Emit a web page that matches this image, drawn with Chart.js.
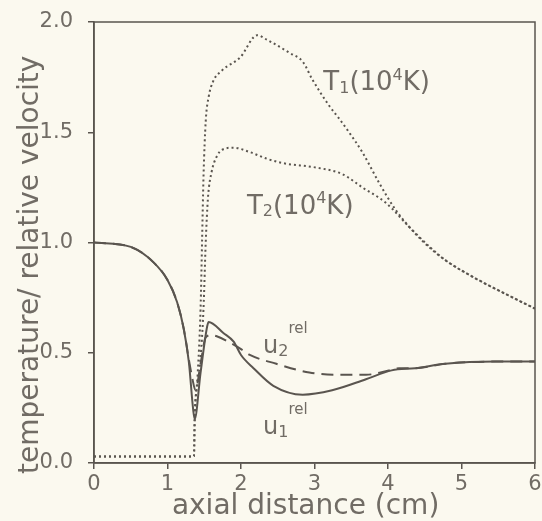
<!DOCTYPE html>
<html>
<head>
<meta charset="utf-8">
<script src="https://cdn.jsdelivr.net/npm/chart.js@4/dist/chart.umd.min.js"></script>
<style>
  html, body { margin: 0; padding: 0; background: #fbf9ef; }
  #wrap { width: 542px; height: 521px; }
</style>
</head>
<body>
<div id="wrap"><canvas id="axialChart" width="542" height="521"></canvas></div>
<script>
// values, x in cm
const t1X = [0, 1.36, 1.37, 1.41, 1.45, 1.47, 1.49, 1.52, 1.56, 1.62, 1.74, 1.99, 2.22, 2.35, 2.66, 2.84, 2.97, 3.2, 3.34, 3.47, 3.65, 3.88, 4.1, 4.46, 4.78, 5.23, 5.64, 6.0];
const t1Y = [0.03, 0.03, 0.2, 0.4, 0.7, 1.0, 1.3, 1.55, 1.66, 1.73, 1.78, 1.84, 1.94, 1.92, 1.86, 1.82, 1.74, 1.62, 1.56, 1.50, 1.41, 1.27, 1.15, 1.01, 0.92, 0.83, 0.76, 0.70];

const t2X = [0, 1.36, 1.37, 1.43, 1.49, 1.52, 1.55, 1.6, 1.67, 1.74, 1.9, 2.12, 2.35, 2.57, 3.02, 3.38, 3.65, 3.97, 4.32, 4.6, 4.78, 5.23, 5.64, 6.0];
const t2Y = [0.03, 0.03, 0.2, 0.4, 0.7, 1.0, 1.2, 1.32, 1.39, 1.42, 1.43, 1.41, 1.38, 1.36, 1.34, 1.31, 1.25, 1.18, 1.06, 0.97, 0.92, 0.83, 0.76, 0.70];

const u1X = [0, 0.5, 0.81, 1.0, 1.13, 1.22, 1.29, 1.35, 1.37, 1.45, 1.54, 1.56, 1.76, 1.9, 2.0, 2.17, 2.44, 2.84, 3.24, 3.7, 4.05, 4.37, 4.78, 5.46, 6.0];
const u1Y = [1.0, 0.98, 0.91, 0.83, 0.73, 0.61, 0.46, 0.24, 0.2, 0.41, 0.62, 0.64, 0.59, 0.55, 0.49, 0.43, 0.35, 0.31, 0.33, 0.38, 0.42, 0.43, 0.45, 0.46, 0.46];

const u2X = [0, 0.5, 0.81, 1.0, 1.13, 1.22, 1.29, 1.34, 1.38, 1.45, 1.52, 1.6, 1.67, 1.88, 2.03, 2.12, 2.48, 2.93, 3.34, 3.7, 4.01, 4.15, 4.37, 4.78, 5.46, 6.0];
const u2Y = [1.0, 0.98, 0.91, 0.83, 0.73, 0.61, 0.47, 0.38, 0.33, 0.45, 0.57, 0.58, 0.575, 0.54, 0.51, 0.49, 0.45, 0.41, 0.40, 0.40, 0.42, 0.43, 0.43, 0.45, 0.46, 0.46];

const xTicks = [0, 1, 2, 3, 4, 5, 6];
const yTicks = [0, 0.5, 1.0, 1.5, 2.0];

// curve labels: [text, font size, vertical shift]
const curveLabels = [
    { x: 3.12, y: 1.72, parts: [['T', 26, 0], ['1', 16, 5], ['(10', 26, 0], ['4', 16, -8], ['K)', 26, 0]] },
    { x: 2.08, y: 1.16, parts: [['T', 26, 0], ['2', 16, 5], ['(10', 26, 0], ['4', 16, -8], ['K)', 26, 0]] },
    { x: 2.30, y: 0.525, parts: [['u', 24, 0], ['2', 16, 5], ['rel', 15, -18]] },
    { x: 2.30, y: 0.16, parts: [['u', 24, 0], ['1', 16, 5], ['rel', 15, -18]] }
];

const ink = '#5a554f';
const textInk = '#716c65';
const fontFamily = '"DejaVu Sans", sans-serif';

function toPoints(xs, ys) {
    return xs.map((x, i) => ({ x: x, y: ys[i] }));
}

// box around the plot + the curve labels
const frameAndLabels = {
    id: 'frameAndLabels',
    afterDatasetsDraw(chart) {
        const ctx = chart.ctx;
        const a = chart.chartArea;
        ctx.save();
        ctx.strokeStyle = ink;
        ctx.lineWidth = 1.5;
        ctx.strokeRect(a.left, a.top, a.right - a.left, a.bottom - a.top);

        ctx.fillStyle = textInk;
        ctx.textBaseline = 'middle';
        ctx.textAlign = 'left';
        curveLabels.forEach(lbl => {
            let px = chart.scales.x.getPixelForValue(lbl.x);
            const py = chart.scales.y.getPixelForValue(lbl.y);
            lbl.parts.forEach(p => {
                ctx.font = p[1] + 'px ' + fontFamily;
                ctx.fillText(p[0], px, py + p[2]);
                px += ctx.measureText(p[0]).width;
            });
        });
        ctx.restore();
    }
};

const lineStyle = {
    borderColor: ink,
    borderWidth: 2,
    pointRadius: 0,
    fill: false,
    showLine: true,
    cubicInterpolationMode: 'monotone'
};

new Chart(document.getElementById('axialChart').getContext('2d'), {
    type: 'scatter',
    data: {
        datasets: [
            Object.assign({ label: 'T1', data: toPoints(t1X, t1Y), borderDash: [2, 3] }, lineStyle),
            Object.assign({ label: 'T2', data: toPoints(t2X, t2Y), borderDash: [2, 3] }, lineStyle),
            Object.assign({ label: 'u1', data: toPoints(u1X, u1Y) }, lineStyle),
            Object.assign({ label: 'u2', data: toPoints(u2X, u2Y), borderDash: [12, 7] }, lineStyle)
        ]
    },
    options: {
        responsive: false,
        animation: false,
        layout: { padding: { top: 22, right: 7, left: 0, bottom: 0 } },
        plugins: {
            legend: { display: false },
            tooltip: { enabled: false }
        },
        scales: {
            x: {
                type: 'linear',
                min: 0,
                max: 6,
                afterFit: s => { s.height = 58; },
                afterBuildTicks: s => { s.ticks = xTicks.map(v => ({ value: v })); },
                ticks: {
                    color: textInk,
                    font: { family: fontFamily, size: 21, lineHeight: 1.5 },
                    padding: 0,
                    maxRotation: 0
                },
                grid: { drawOnChartArea: false, drawTicks: true, tickLength: 6, color: ink, lineWidth: 1.5 },
                border: { display: true, color: ink, width: 1.5 },
                title: {
                    display: true,
                    text: 'axial distance (cm)  ',
                    color: textInk,
                    font: { family: fontFamily, size: 28, lineHeight: 1.05 },
                    padding: { top: 0, bottom: 0 }
                }
            },
            y: {
                type: 'linear',
                min: 0,
                max: 2,
                afterFit: s => { s.width = 94; },
                afterBuildTicks: s => { s.ticks = yTicks.map(v => ({ value: v })); },
                ticks: {
                    color: textInk,
                    font: { family: fontFamily, size: 21, lineHeight: 0.5 },
                    padding: 15,
                    callback: v => v.toFixed(1)
                },
                grid: { drawOnChartArea: false, drawTicks: true, tickLength: 6, color: ink, lineWidth: 1.5 },
                border: { display: true, color: ink, width: 1.5 },
                title: {
                    display: true,
                    text: 'temperature/ relative velocity     ',
                    color: textInk,
                    font: { family: fontFamily, size: 28, lineHeight: 1.2 },
                    padding: { top: 14, bottom: 0 }
                }
            }
        }
    },
    plugins: [frameAndLabels]
});
</script>
</body>
</html>
